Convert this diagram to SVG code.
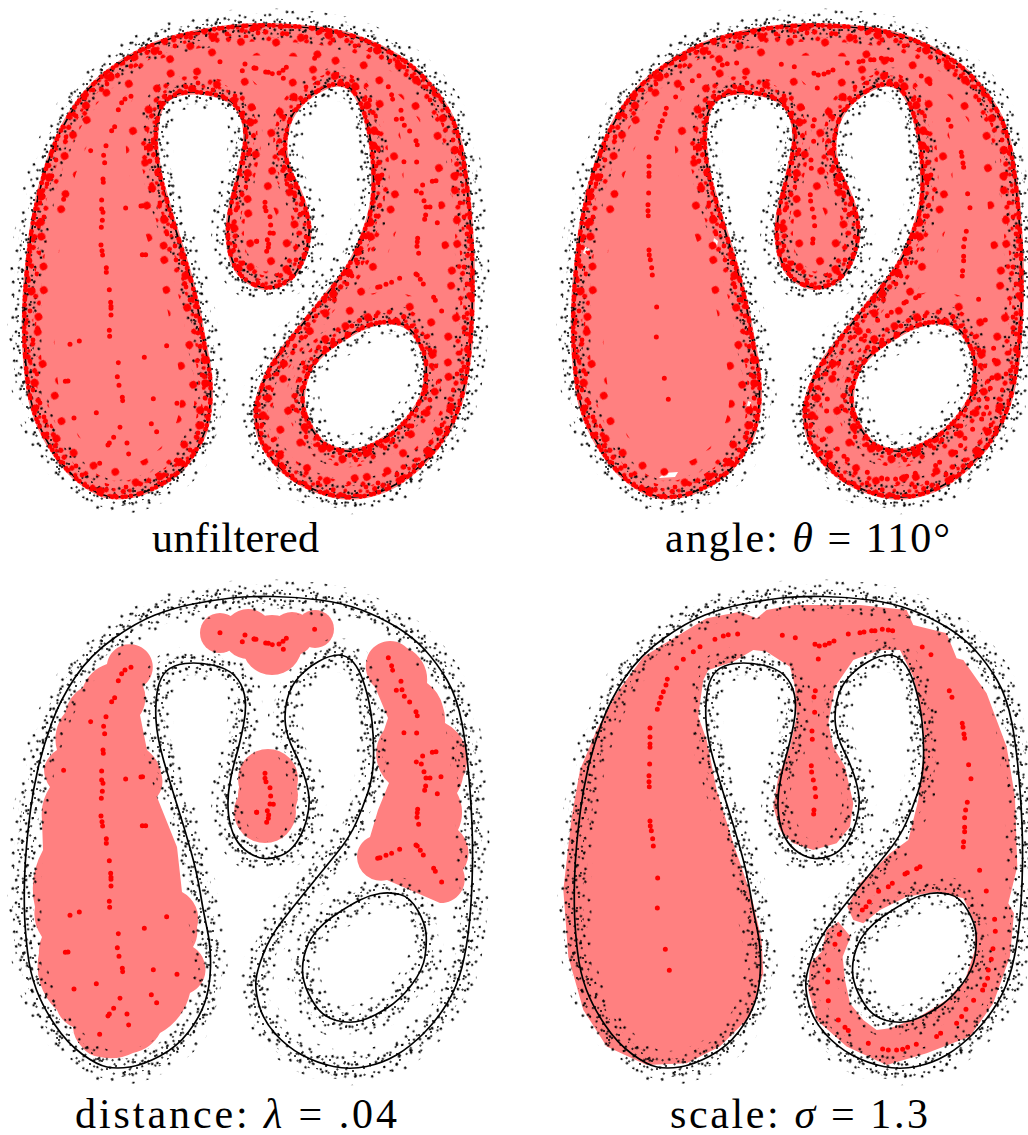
<svg xmlns="http://www.w3.org/2000/svg" width="1028" height="1135" viewBox="0 0 1028 1135">
<style>
.ln{fill:none;stroke:#000;stroke-width:1.7}
.pk{fill:#ff8080}
.pk2{fill:#ff8080;stroke:#ff8080;stroke-width:5;stroke-linejoin:round}
.nz{fill:none;stroke-linecap:butt}
.dot{fill:none;stroke:#f00;stroke-width:15;stroke-linecap:round}
.lab{font-family:"Liberation Serif","Times New Roman",serif;font-size:42px;fill:#000}
.it{font-style:italic}
</style>
<defs>
<path id="c" fill-rule="evenodd" clip-rule="evenodd" d="M273.5 596.5Q250 596 231.5 598Q213 600 193 604Q173 608 155 615Q137 622 113.5 638.5Q90 655 75 677.5Q60 700 51.5 723.5Q43 747 38 768.5Q33 790 30.5 810Q28 830 26.5 846.5Q25 863 24.5 880Q24 897 24.5 913.5Q25 930 27.5 951.5Q30 973 36.5 990Q43 1007 55 1025Q67 1043 82 1054Q97 1065 107 1067Q117 1069 130 1067Q143 1065 160 1056Q177 1047 188.5 1032Q200 1017 205 1002Q210 987 210.5 967Q211 947 207 928.5Q203 910 200 891.5Q197 873 191 851.5Q185 830 177.5 806.5Q170 783 163.5 760Q157 737 156 720Q155 703 157.5 690Q160 677 166.5 671Q173 665 185 663.5Q197 662 212 665Q227 668 234.5 675.5Q242 683 244.5 695Q247 707 243.5 725Q240 743 236 756.5Q232 770 229.5 785Q227 800 228.5 814Q230 828 235 837.5Q240 847 248.5 852.5Q257 858 264.5 858.5Q272 859 281 855.5Q290 852 296.5 842.5Q303 833 306.5 820Q310 807 309 797Q308 787 304 775Q300 763 293.5 750Q287 737 285.5 725Q284 713 287 700Q290 687 298.5 677.5Q307 668 318.5 661.5Q330 655 338.5 655Q347 655 353.5 662.5Q360 670 365 686.5Q370 703 372 721.5Q374 740 373.5 758.5Q373 777 368 792Q363 807 356.5 822Q350 837 336.5 853.5Q323 870 308 888.5Q293 907 281.5 922Q270 937 263.5 953.5Q257 970 256 980Q255 990 259 1005Q263 1020 275 1033.5Q287 1047 302 1055Q317 1063 333.5 1066.5Q350 1070 366.5 1066.5Q383 1063 396.5 1055Q410 1047 423.5 1033.5Q437 1020 447 1003.5Q457 987 462 967Q467 947 469.5 922Q472 897 472.5 863.5Q473 830 470 790Q467 750 462 723.5Q457 697 447 680Q437 663 425 650Q413 637 396.5 627Q380 617 361.5 610Q343 603 320 600Q297 597 273.5 596.5ZM380 893.5Q390 892 400 894.5Q410 897 417.5 910Q425 923 426 933Q427 943 425 956.5Q423 970 411.5 985Q400 1000 386.5 1008.5Q373 1017 361.5 1020.5Q350 1024 336.5 1020.5Q323 1017 315 1005Q307 993 304 981.5Q301 970 304 956.5Q307 943 315 933Q323 923 336.5 914Q350 905 360 900Q370 895 380 893.5Z"/>
<clipPath id="in"><use href="#c"/></clipPath>
<pattern id="n1" patternUnits="userSpaceOnUse" width="70" height="70">
<path fill="none" stroke="#000" stroke-width="2" stroke-linecap="round" d="M5 12h.01M13 41h.01M22 3h.01M29 57h.01M37 19h.01M44 66h.01M51 31h.01M58 8h.01M66 47h.01M9 62h.01M17 25h.01M26 36h.01M33 48h.01M40 5h.01M48 54h.01M55 22h.01M63 35h.01M2 30h.01M11 52h.01M20 14h.01M27 68h.01M35 28h.01M43 42h.01M50 10h.01M59 60h.01M67 18h.01M7 45h.01M15 6h.01M24 50h.01M31 33h.01M39 61h.01M46 16h.01M53 44h.01M61 2h.01M69 55h.01M3 21h.01M19 64h.01M28 9h.01M36 38h.01M45 27h.01M52 65h.01M60 39h.01M68 29h.01M10 34h.01M18 47h.01M25 23h.01M34 1h.01M41 53h.01M49 37h.01M57 58h.01M65 12h.01M6 56h.01M14 18h.01M23 43h.01M32 11h.01M38 69h.01M47 4h.01M54 51h.01M62 24h.01M1 40h.01"/>
</pattern>
<pattern id="n2" href="#n1" patternTransform="rotate(37)"/>
<pattern id="n3" href="#n1" patternTransform="rotate(71) scale(1.15)"/>
<pattern id="n4" href="#n1" patternTransform="rotate(-23) scale(1.3)"/>
<pattern id="r1" patternUnits="userSpaceOnUse" width="60" height="50">
<path fill="none" stroke="#f00" stroke-width="4.8" stroke-linecap="round" d="M6 8h.01M18 4h.01M33 11h.01M47 5h.01M55 17h.01M10 21h.01M25 19h.01M40 24h.01M3 34h.01M16 37h.01M30 32h.01M44 38h.01M56 31h.01M22 46h.01M37 45h.01M52 47h.01"/>
</pattern>
<pattern id="r2" href="#r1" patternTransform="rotate(41)"/>
<pattern id="r3" href="#r1" patternTransform="rotate(-29) scale(1.6)"/>
<pattern id="r4" href="#r1" patternTransform="rotate(67) scale(.8)"/>
<g id="noise" class="nz">
<use href="#c" stroke="url(#n1)" stroke-width="14"/>
<use href="#c" stroke="url(#n2)" stroke-width="18"/>
<use href="#c" stroke="url(#n3)" stroke-width="24"/>
<use href="#c" stroke="url(#n4)" stroke-width="34"/>
</g>
<g id="band" class="nz">
<g clip-path="url(#in)">
<use href="#c" stroke="url(#r3)" stroke-width="60"/>
<use href="#c" stroke="url(#r2)" stroke-width="32"/>
<use href="#c" stroke="url(#r1)" stroke-width="24"/>
<use href="#c" stroke="url(#r4)" stroke-width="18"/>
<use href="#c" stroke="url(#r2)" stroke-width="20"/>
<use href="#c" stroke="url(#r3)" stroke-width="16"/>
</g>
<use href="#c" stroke="#f00" stroke-width="4.8" stroke-linecap="round" stroke-dasharray="0 4.1 0 6.3 0 3.2 0 5.1 0 8.3 0 2.7 0 11.5"/>
</g>
<g id="dA" class="dot">
<path transform="translate(0 580) scale(.3333)" d="M393 262h0M375 270h0M365 281h0M355 302h0M344 353h0M335 365h0M318 410h0M272 425h0M311 439h0M314 461h0M309 510h0M310 520h0M191 571h0M305 573h0M305 600h0M309 610h0M307 634h0M304 655h0M377 597h0M423 591h0M428 590h0M303 708h0M306 725h0M308 738h0M427 737h0M437 737h0M660 158h0M735 165h0M727 185h0M762 177h0M768 178h0M770 697h0"/>
<path transform="translate(250 580) scale(.3333)" d="M13 177h0M47 189h0M55 190h0M67 194h0M87 192h0M99 184h0M109 175h0M100 208h0M194 148h0M415 233h0M425 257h0M428 271h0M453 304h0M439 331h0M456 329h0M463 349h0M479 366h0M498 395h0M502 407h0M462 458h0M500 459h0M547 517h0M558 515h0M518 528h0M499 546h0M514 552h0M522 575h0M528 594h0M540 594h0M573 590h0M527 618h0M524 631h0M562 641h0M45 580h0M45 595h0M48 605h0M60 623h0M62 648h0M60 672h0M70 673h0M20 697h0M52 692h0M56 705h0M55 715h0M50 727h0M503 688h0M502 698h0M501 712h0M506 733h0"/>
<path transform="translate(0 830) scale(.3333)" d="M319 26h0M319 40h0M328 92h0M332 130h0M333 142h0M333 148h0M333 168h0M328 214h0M329 232h0M238 246h0M210 256h0M500 260h0M433 295h0M355 311h0M352 353h0M357 379h0M196 367h0M204 366h0M367 415h0M368 425h0M460 419h0M531 433h0M289 461h0M222 477h0M360 505h0M454 494h0M470 518h0M341 535h0M328 552h0M324 558h0M381 552h0M386 585h0M299 613h0"/>
<path transform="translate(250 830) scale(.3333)" d="M383 85h0M390 83h0M408 76h0M425 70h0M449 58h0M498 45h0M502 48h0M511 61h0M520 75h0M551 115h0M556 124h0M575 156h0"/>
</g>
<g id="dB" class="dot">
<path transform="translate(10 590) scale(.3333)" d="M322 268h0M318 285h0M310 305h0M303 322h0M298 340h0M292 358h0M350 234h0M370 208h0M400 185h0M420 170h0M465 148h0M490 138h0M505 134h0M533 132h0M667 136h0M706 143h0M765 163h0M778 168h0M795 165h0M808 160h0M822 153h0M775 207h0M865 132h0M900 128h0M912 126h0M935 122h0M945 122h0M967 118h0M985 120h0M998 122h0M1087 171h0M1113 194h0M1168 302h0M1176 322h0M1207 400h0M1209 412h0M1212 432h0M1214 445h0M1226 524h0M1233 566h0M1222 637h0M1217 660h0M1214 683h0M1214 712h0M1214 725h0M1211 755h0M1210 771h0M1259 841h0M1279 903h0M1304 988h0M1306 1024h0M1299 1076h0M1294 1108h0M1285 1140h0M1283 1165h0M1274 1185h0M1268 1200h0M1241 1231h0M1218 1258h0M1205 1280h0M1190 1300h0M1142 1330h0M1130 1340h0M1069 1363h0M1043 1372h0M1028 1378h0M1010 1380h0M985 1380h0M968 1377h0M925 1360h0M865 1322h0M855 1312h0M835 1290h0M805 1232h0M803 1176h0M805 1140h0M825 1063h0M838 1033h0M907 960h0M918 950h0M928 935h0M956 904h0M985 890h0M997 880h0M1035 852h0M1042 848h0M1070 836h0M1080 830h0M766 302h0M762 321h0M764 367h0M756 423h0M757 448h0M754 527h0M755 546h0M760 570h0M765 595h0M767 620h0M762 660h0M761 672h0M270 414h0M270 441h0M270 462h0M270 472h0M269 522h0M267 557h0M267 575h0M268 590h0M270 693h0M271 708h0M274 722h0M278 746h0M280 768h0M293 864h0M292 954h0M316 1078h0M328 1141h0"/>
</g>
</defs>

<g id="panel-unfiltered" transform="translate(0 -571)">
<use href="#c" class="pk2"/>
<use href="#noise"/>
<use href="#c" class="ln"/>
<use href="#band"/>
<use href="#dA"/>
</g>

<g id="panel-angle" transform="translate(549 -571)">
<use href="#c" class="pk2"/>
<path fill="#fff" d="M115 1044l14-1 -3 5 -16 1zM36 818l5 2 -2 6 -5-2zM165 809l4 3 -1 5 -4-3zM199 972l3 1 -1 5 -3-1z"/>
<use href="#noise"/>
<use href="#c" class="ln"/>
<use href="#band"/>
<use href="#dB"/>
</g>

<g id="panel-distance">
<g id="blobs-distance" class="pk">
<circle cx="220" cy="633" r="20"/><circle cx="248" cy="634" r="25"/><circle cx="272" cy="645" r="30"/><circle cx="292" cy="634" r="22"/><circle cx="315" cy="629" r="19"/>
<circle cx="268" cy="779" r="30"/><circle cx="268" cy="795" r="30"/><circle cx="265" cy="812" r="31"/>
<path d="M143 686A23 23 0 1 0 107 664A40 40 0 0 0 83 687A40 40 0 0 0 65 713A40 40 0 0 0 57 750A30 30 0 0 0 44 768A30 30 0 0 0 50 787A50 50 0 0 0 42 820L43 850A80 80 0 0 0 35 907A40 40 0 0 0 42 937A30 30 0 0 0 39 953A60 60 0 0 0 57 1010A30 30 0 0 0 73 1027A30 30 0 0 0 82 1047A25 25 0 0 0 100 1057A50 50 0 0 0 133 1053A40 40 0 0 0 160 1033A60 60 0 0 0 190 993A26 26 0 0 0 193 947A30 30 0 0 0 197 927A30 30 0 0 0 182 892L177 847L157 797A25 25 0 0 0 162 777A40 40 0 0 0 147 750L140 715A30 30 0 0 0 143 686Z"/>
<path d="M375 687A28 28 0 0 1 367 658A24 24 0 0 1 407 648A35 35 0 0 1 427 683A40 40 0 0 1 443 707A40 40 0 0 1 445 723A40 40 0 0 1 463 777A40 40 0 0 1 457 793A40 40 0 0 1 458 830A30 30 0 0 1 463 870A24 24 0 0 1 440 903L387 880A24 24 0 0 1 357 857A22 22 0 0 1 370 837L378 810L389 783A40 40 0 0 1 384 730L388 718Z"/>
</g>
<use href="#noise"/>
<use href="#c" class="ln"/>
<use href="#dA"/>
</g>

<g id="panel-scale" transform="translate(550 0)">
<polygon class="pk" transform="translate(10 590) scale(.3333)" points="590,85 540,65 440,85 340,145 250,200 170,310 110,420 60,540 35,680 10,900 25,1100 70,1260 140,1370 260,1425 380,1420 480,1370 570,1280 610,1150 605,1050 575,920 520,760 470,600 440,450 415,380 420,340 430,270 445,240 520,215 580,180 620,185 690,230 705,290 710,380 690,470 655,560 640,650 660,720 700,760 760,780 830,760 870,710 880,640 855,530 820,470 805,400 825,290 880,210 960,180 1020,180 1060,260 1090,400 1090,500 1075,630 1045,750 990,790 900,880 862,950 880,990 910,1000 960,960 1040,920 1130,905 1210,925 1245,1000 1245,1080 1215,1170 1160,1230 1070,1285 990,1315 950,1320 910,1290 870,1240 855,1170 848,1100 872,1040 835,995 800,1020 785,1085 750,1120 745,1200 770,1290 860,1370 980,1425 1100,1390 1230,1340 1300,1240 1350,1100 1362,970 1345,940 1372,830 1365,620 1340,470 1280,310 1210,210 1190,205 1160,130 1060,105 1040,60 900,45 700,45 620,60"/>
<use href="#noise"/>
<use href="#c" class="ln"/>
<use href="#dB"/>
</g>

<g id="labels" class="lab">
<text x="152" y="552" textLength="167">unfiltered</text>
<text x="665" y="552" textLength="285">angle:  <tspan class="it">θ</tspan> = 110°</text>
<text x="75" y="1128" textLength="322">distance:  <tspan class="it">λ</tspan> = .04</text>
<text x="670" y="1128" textLength="258">scale:  <tspan class="it">σ</tspan> = 1.3</text>
</g>
</svg>
